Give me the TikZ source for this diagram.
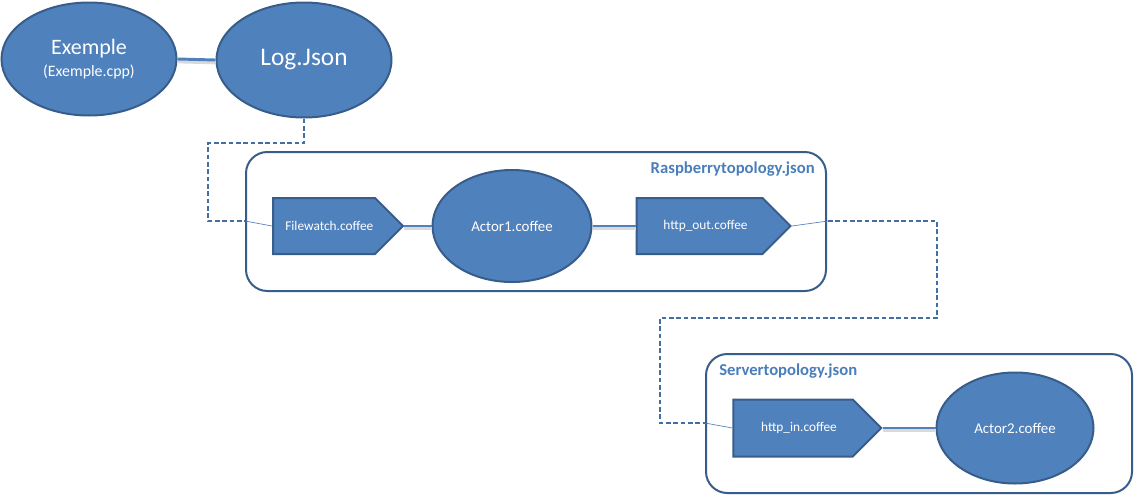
\documentclass[tikz,border=0pt]{standalone}
\usepackage{fontspec}
\setmainfont{Carlito}
\usetikzlibrary{shapes.geometric,shapes.symbols}
\definecolor{ofill}{HTML}{4F81BD}
\definecolor{oline}{HTML}{385D8A}
\definecolor{olab}{HTML}{4A7EBB}
\tikzset{
  oval/.style={ellipse, draw=oline, line width=1.5pt, fill=ofill, text=white, inner sep=0pt},
  pent/.style={signal, signal to=east, signal pointer angle=90, draw=oline, line width=1.5pt, fill=ofill, text=white, inner sep=0pt, font=\fontsize{10}{12}\selectfont},
  grp/.style={draw=oline, line width=1.5pt, rounded corners=16pt},
  link/.style={draw=ofill, line width=2.2pt},
  shade/.style={draw=black!15, line width=2.5pt},
  dashline/.style={draw=ofill!85!black, line width=1.1pt, dash pattern=on 3.5pt off 2pt},
  thinline/.style={draw=ofill, line width=0.5pt},
  lab/.style={text=olab, font=\bfseries\fontsize{12.5}{14}\selectfont, inner sep=0pt}
}
\begin{document}
\begin{tikzpicture}[x=0.75pt,y=-0.75pt]
\useasboundingbox (0,0) rectangle (1138,500);
% group boxes
\draw[grp] (246,152) rectangle (826,291);
\draw[grp] (706,354) rectangle (1132,493);
\node[lab, anchor=east] (rlab) at (815,169) {Raspberrytopology.json};
\node[lab, anchor=west] (slab) at (719,371) {Servertopology.json};
% nodes
\node[oval, minimum width=131.25pt, minimum height=84.75pt, align=center] (ex) at (89,59)
  {\fontsize{16.5}{19}\selectfont Exemple\\[4pt]\fontsize{11.9}{14}\selectfont (Exemple.cpp)};
\node[oval, minimum width=131.25pt, minimum height=86.25pt, font=\fontsize{19}{22}\selectfont] (log) at (304,60) {\raisebox{-2pt}{Log.Json}};
\node[pent, minimum width=97.5pt, minimum height=42pt] (fw) at (324,226) {\hspace*{8pt}Filewatch.coffee};
\node[oval, minimum width=119.25pt, minimum height=84pt, font=\fontsize{11.2}{13}\selectfont] (a1) at (512,226) {Actor1.coffee};
\node[pent, minimum width=115.5pt, minimum height=42pt] (ho) at (699.5,226) {\hspace*{9pt}http\_out.coffee};
\node[pent, minimum width=111pt, minimum height=42.75pt] (hi) at (793,428) {\hspace*{9pt}http\_in.coffee};
\node[oval, minimum width=117.75pt, minimum height=83.25pt, font=\fontsize{11.2}{13}\selectfont] (a2) at (1015,428) {Actor2.coffee};
% solid links with shadow
\draw[shade] ([yshift=-2pt]ex.east) -- ([yshift=-2pt]log.west);
\draw[link] (ex.east) -- (log.west);
\draw[shade] ([yshift=-2pt]fw.east) -- ([yshift=-2pt]a1.west);
\draw[link] (fw.east) -- (a1.west);
\draw[shade] ([yshift=-2pt]a1.east) -- ([yshift=-2pt]ho.west);
\draw[link] (a1.east) -- (ho.west);
\draw[shade] ([yshift=-2pt]hi.east) -- ([yshift=-2pt]a2.west);
\draw[link] (hi.east) -- (a2.west);
% dashed connectors
\coordinate (d1) at (245,221);
\coordinate (d2) at (828,221);
\coordinate (d3) at (705,423);
\draw[dashline] (log.south) |- (208,143) -- (208,221) -- (d1);
\draw[thinline] (d1) -- (fw.west);
\draw[thinline] (ho.east) -- (d2);
\draw[dashline] (d2) -- (937,221) -- (937,318) -- (660,318) -- (660,423) -- (d3);
\draw[thinline] (d3) -- (hi.west);
\end{tikzpicture}
\end{document}
